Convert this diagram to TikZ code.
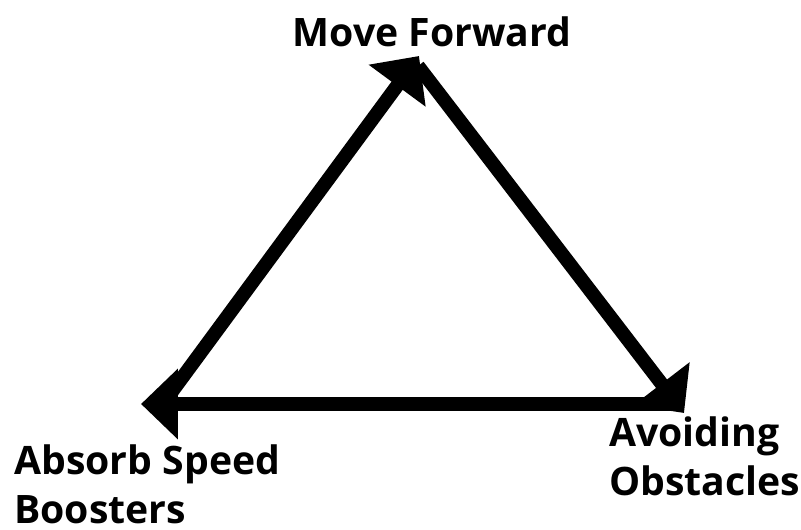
\documentclass[tikz,border=0pt]{standalone}
\usepackage{fontspec}
\setmainfont{Open Sans}
\usetikzlibrary{arrows.meta,positioning}

\begin{document}
\begin{tikzpicture}[x=0.02cm, y=-0.02cm,
          lbl/.style={font=\fontsize{22.3}{27.8}\selectfont\bfseries, inner sep=0pt, align=left},
          flow/.style={-{Triangle[length=21pt,width=39pt]}, line width=7.9pt, black}
      ]
        \useasboundingbox (0,0) rectangle (801,530);
        % arrow tips
        \coordinate (absorb) at (141,404);
        \coordinate (move)   at (419,56);
        \coordinate (avoid)  at (684,413);
        % line starts
        \coordinate (absorb-out) at (168,397);
        \coordinate (move-out)   at (418,66);
        \coordinate (avoid-out)  at (676,404);
        \node[lbl, anchor=base]      (lmove)   at (432,47)  {Move Forward};
        \node[lbl, anchor=base west] (labsorb) at (14,523)  {Absorb Speed\\Boosters};
        \node[lbl, anchor=base west] (lavoid)  at (609,495) {Avoiding\\Obstacles};
        \draw[flow] (absorb-out) -- (move);
        \draw[flow] (move-out) -- (avoid);
        \draw[flow] (avoid-out) -- (absorb);
      \end{tikzpicture}
\end{document}
